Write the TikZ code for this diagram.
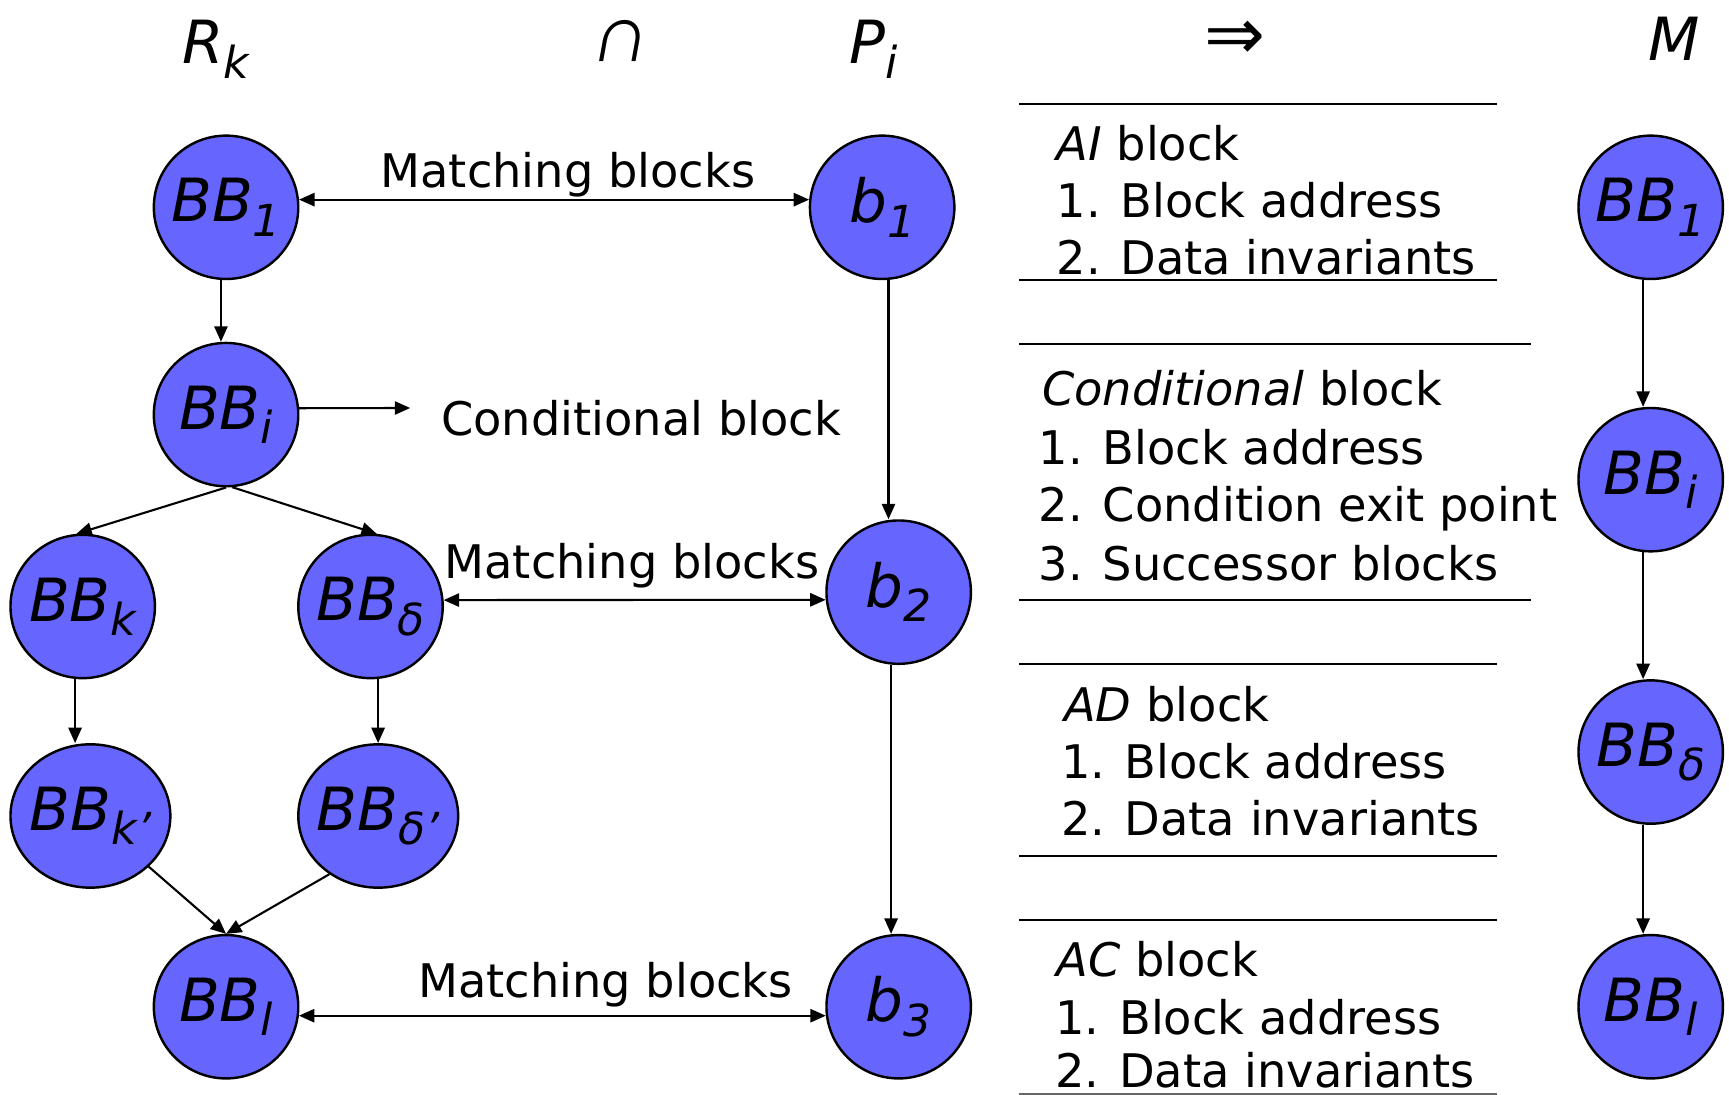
\documentclass[tikz,border=0pt]{standalone}
\usepackage{fontspec}
\setmainfont{DejaVu Sans}
\newfontfamily\capfont{Liberation Sans}
\usetikzlibrary{arrows.meta,shapes.geometric}
\definecolor{bbfill}{RGB}{102,102,255}
\newcommand\mysub[1]{\raisebox{-13pt}{\fontsize{40}{40}\selectfont\itshape #1}}
\newcommand\nodefont{\fontsize{54}{54}\selectfont\itshape}
\newcommand\txtfont{\fontsize{42}{42}\selectfont}
\newcommand\zb[1]{\makebox[0pt]{#1}}
\begin{document}
\begin{tikzpicture}[x=1pt,y=-1pt,
  bb/.style={ellipse, draw=black, line width=2.2pt, fill=bbfill,
    minimum width=131pt, minimum height=130pt, inner sep=0pt, font=\nodefont},
  txt/.style={inner sep=0pt, font=\txtfont},
  hd/.style={inner sep=0pt, font=\nodefont},
  arr/.style={-{Triangle[length=14pt,width=12pt]}, line width=1.9pt},
  darr/.style={{Triangle[length=14pt,width=12pt]}-{Triangle[length=14pt,width=12pt]}, line width=1.9pt},
  rule/.style={line width=2pt}]
\useasboundingbox (0,0) rectangle (1568,993);

% header
\node[hd,anchor=base west] (Rk) at (165,58) {R\mysub{k}};
\node[inner sep=0pt,anchor=base,font=\capfont\fontsize{74}{74}\selectfont,xslant=0.18,transform shape] (cap) at (560,56) {∩};
\node[hd,anchor=base west] (Pi) at (770,58) {P\mysub{i}};
\node[inner sep=0pt,font=\fontsize{66}{66}\selectfont] (imp) at (1120,37) {⇒};
\node[hd,anchor=base west] (Mh) at (1495,55) {M};

% left graph
\node[bb] (BB1) at (205,188) {\zb{BB\mysub{1}}};
\node[bb] (BBi) at (205,376) {\zb{BB\mysub{i}}};
\node[bb] (BBk) at (75,550) {\zb{BB\mysub{k}}};
\node[bb] (BBd) at (336,550) {\zb{BB\mysub{δ}}};
\node[bb,minimum width=145pt] (BBkp) at (82,740) {\zb{BB\mysub{k’}}};
\node[bb,minimum width=145pt] (BBdp) at (343,740) {\zb{BB\mysub{δ’}}};
\node[bb] (BBl) at (205,913) {\zb{BB\mysub{l}}};
\node[bb] (b1) at (800,188) {\zb{b\mysub{1}}};
\node[bb] (b2) at (815,537) {\zb{b\mysub{2}}};
\node[bb] (b3) at (815,913) {\zb{b\mysub{3}}};

% M column
\node[bb] (M1) at (1497,188) {\zb{BB\mysub{1}}};
\node[bb] (M2) at (1497,435) {\zb{BB\mysub{i}}};
\node[bb] (M3) at (1497,682) {\zb{BB\mysub{δ}}};
\node[bb] (M4) at (1497,913) {\zb{BB\mysub{l}}};

% labels
\node[txt,anchor=base] (mb1) at (515,170) {Matching blocks};
\node[txt,anchor=base] (mb2) at (573,525) {Matching blocks};
\node[txt,anchor=base] (mb3) at (549,905) {Matching blocks};
\node[txt,anchor=base west] (cond) at (400,395) {Conditional block};
\coordinate (condarrow) at (372,370);

% connectors
\draw[darr] (BB1.6) -- (b1.174);
\draw[darr] (BBd.5) -- (b2.186);
\draw[darr] (BBl.-7) -- (b3.187);
\draw[arr] (BB1.-94) -- (BB1.-94 |- BBi.north);
\draw[arr] (BBi.5) -- (condarrow);
\draw[arr] (BBi.south) -- (BBk.95);
\draw[arr] (BBi.-85) -- (BBd.85);
\draw[arr] (BBk.-96) -- (BBk.-96 |- BBkp.north);
\draw[arr] (BBd.-84) -- (BBd.-84 |- BBdp.north);
\draw[arr] (BBkp.-41) -- (BBl.north);
\draw[arr] (BBdp.-130) -- (BBl.north);
\draw[arr] (b1.-85) -- (b1.-85 |- b2.north);
\draw[arr] (b2.-96) -- (b2.-96 |- b3.north);
\draw[arr] (M1.-96) -- (M1.-96 |- M2.north);
\draw[arr] (M2.-96) -- (M2.-96 |- M3.north);
\draw[arr] (M3.-96) -- (M3.-96 |- M4.north);

% right text blocks
\draw[rule] (924,94) -- (1358,94);
\draw[rule] (924,254) -- (1358,254);
\draw[rule] (924,312) -- (1388,312);
\draw[rule] (924,544) -- (1388,544);
\draw[rule] (924,602) -- (1358,602);
\draw[rule] (924,776) -- (1358,776);
\draw[rule] (924,834) -- (1358,834);
\draw[rule,draw=black!60] (924,992) -- (1358,992);

\node[txt,anchor=base west] (ai0) at (958,146) {\textit{AI} block};
\node[txt,anchor=base west] (ai1) at (958,197) {1. Block address};
\node[txt,anchor=base west] (ai2) at (958,249) {2. Data invariants};
\node[txt,anchor=base west] (c0) at (945,368) {\textit{Conditional} block};
\node[txt,anchor=base west] (c1) at (942,421) {1. Block address};
\node[txt,anchor=base west] (c2) at (942,473) {2. Condition exit point};
\node[txt,anchor=base west] (c3) at (942,526) {3. Successor blocks};
\node[txt,anchor=base west] (ad0) at (965,654) {\textit{AD} block};
\node[txt,anchor=base west] (ad1) at (962,706) {1. Block address};
\node[txt,anchor=base west] (ad2) at (962,758) {2. Data invariants};
\node[txt,anchor=base west] (ac0) at (958,886) {\textit{AC} block};
\node[txt,anchor=base west] (ac1) at (957,938) {1. Block address};
\node[txt,anchor=base west] (ac2) at (957,986) {2. Data invariants};
\end{tikzpicture}
\end{document}
